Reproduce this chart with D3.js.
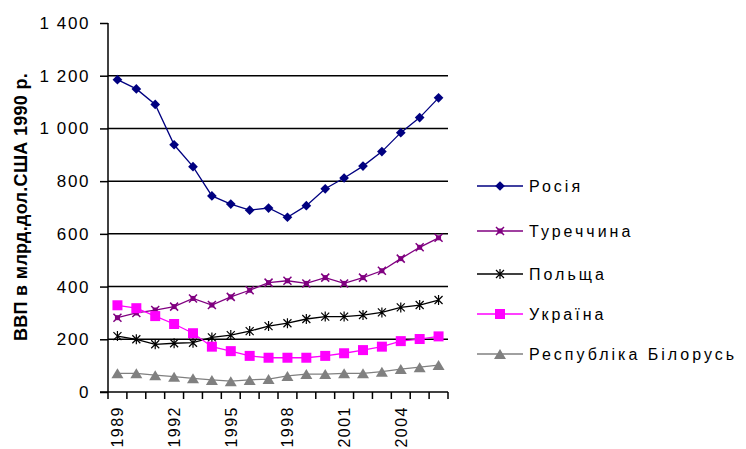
<!DOCTYPE html>
<html>
<head>
<meta charset="utf-8">
<script src="https://cdn.jsdelivr.net/npm/d3@7"></script>
<style>
  body { margin: 0; background: #fff; }
  text { font-family: Arial, "Liberation Sans", sans-serif; }
</style>
</head>
<body>
<div id="chart-area"></div>
<script>
// Data
// ****
const years = d3.range(1989, 2007).map(String)
const tickYears = ["1989", "1992", "1995", "1998", "2001", "2004"]
const yTicks = [0, 200, 400, 600, 800, 1000, 1200, 1400]

const russia  = [1185, 1150, 1091, 938, 855, 744, 713, 690, 698, 663, 707, 771, 812, 857, 912, 984, 1041, 1116]
const turkey  = [282, 300, 311, 324, 355, 330, 361, 386, 415, 422, 412, 434, 412, 434, 460, 506, 549, 585]
const poland  = [212, 200, 181, 185, 187, 207, 216, 231, 250, 261, 277, 286, 286, 292, 302, 321, 330, 349]
const ukraine = [329, 318, 288, 258, 223, 172, 155, 137, 130, 130, 130, 137, 147, 159, 172, 193, 201, 211]
const belarus = [71, 71, 64, 58, 52, 46, 41, 46, 49, 61, 68, 68, 71, 71, 77, 87, 94, 102]

const seriesNames = ["Росія", "Туреччина", "Польща", "Україна", "Республіка Білорусь"]
const seriesColors = ["#000080", "#800080", "#000000", "#ff00ff", "#808080"]
const seriesMarkers = ["diamond", "turkey", "poland", "square", "triangle"]
const seriesValues = [russia, turkey, poland, ukraine, belarus]

// Config
// ******
const width = 746, height = 449
const plot = {left: 108, right: 448, top: 23, bottom: 392}

const svg = d3.select("#chart-area")
  .append("svg")
    .attr("width", width)
    .attr("height", height)

const x = d3.scaleBand().domain(years).range([plot.left, plot.right])
const y = d3.scaleLinear().domain([0, 1400]).range([plot.bottom, plot.top])

// Grid
svg.append("g")
  .selectAll("line")
  .data(yTicks.filter(d => d > 0 && d < 1400))
  .enter().append("line")
    .attr("x1", plot.left).attr("x2", plot.right)
    .attr("y1", d => y(d)).attr("y2", d => y(d))
    .attr("stroke", "#000").attr("stroke-width", 1.5)

// Y Axis
const yAxis = d3.axisLeft(y).tickValues(yTicks).tickSize(8).tickPadding(10)
  .tickFormat(d => d >= 1000 ? d3.format(",")(d).replace(",", " ") : d)
const yG = svg.append("g").attr("transform", "translate(" + plot.left + ",0)").call(yAxis)
yG.select(".domain").attr("stroke", "#000").attr("stroke-width", 1.5).attr("d", "M0," + plot.top + "V" + plot.bottom)
yG.selectAll(".tick line").attr("stroke", "#000").attr("stroke-width", 1.5)
yG.selectAll("text").attr("font-size", "17px").attr("fill", "#000")
  .attr("letter-spacing", "1.6px")
  .attr("font-family", "Arial, 'Liberation Sans', sans-serif")

// X Axis
const xG = svg.append("g").attr("transform", "translate(0," + plot.bottom + ")")
xG.append("line")
  .attr("x1", plot.left - 8).attr("x2", plot.right)
  .attr("stroke", "#000").attr("stroke-width", 1.5)
xG.selectAll(".xtick")
  .data(years.concat(["end"]))
  .enter().append("line")
    .attr("x1", (d, i) => i < years.length ? x(d) : plot.right)
    .attr("x2", (d, i) => i < years.length ? x(d) : plot.right)
    .attr("y1", 0).attr("y2", 7)
    .attr("stroke", "#000").attr("stroke-width", 1.5)
xG.selectAll(".xlabel")
  .data(tickYears)
  .enter().append("text")
    .attr("transform", d => "translate(" + (x(d) + x.bandwidth() / 2 + 6) + ",14) rotate(-90)")
    .attr("text-anchor", "end")
    .attr("font-size", "16px")
    .attr("letter-spacing", "1.5px")
    .text(d => d)

// Y Label
svg.append("text")
  .attr("transform", "translate(27,207) rotate(-90)")
  .attr("text-anchor", "middle")
  .attr("font-size", "18px")
  .attr("font-weight", "bold")
  .attr("letter-spacing", "0.3px")
  .text("ВВП в млрд.дол.США 1990 р.")

// Markers
// *******
function drawMarker(sel, type, color) {
  if (type === "diamond") {
    sel.append("path").attr("d", d3.symbol().type(d3.symbolDiamond2).size(60)()).attr("fill", color)
  } else if (type === "square") {
    sel.append("rect").attr("x", -5).attr("y", -5).attr("width", 10).attr("height", 10).attr("fill", color)
  } else if (type === "triangle") {
    sel.append("path").attr("d", "M0,-5L6,5L-6,5Z").attr("fill", color)
  } else if (type === "turkey") {
    sel.append("rect").attr("x", -2.5).attr("y", -2.5).attr("width", 5).attr("height", 5).attr("fill", color)
    sel.append("path").attr("d", "M-4,-4L4,4M-4,4L4,-4").attr("stroke", color).attr("stroke-width", 1.5)
  } else if (type === "poland") {
    sel.append("path").attr("d", "M-4,-4L4,4M-4,4L4,-4M0,-5V5").attr("stroke", color).attr("stroke-width", 1.2)
  }
}

const line = d3.line()
  .x((d, i) => x(years[i]) + x.bandwidth() / 2)
  .y(d => y(d))

seriesValues.forEach((vals, k) => {
  svg.append("path")
    .datum(vals)
    .attr("d", line)
    .attr("fill", "none")
    .attr("stroke", seriesColors[k])
    .attr("stroke-width", 1.3)
  vals.forEach((v, i) => {
    const m = svg.append("g")
      .attr("transform", "translate(" + (x(years[i]) + x.bandwidth() / 2) + "," + y(v) + ")")
    drawMarker(m, seriesMarkers[k], seriesColors[k])
  })
})

// Legend
// ******
const legendY = [186, 231, 274, 314, 354]
seriesNames.forEach((name, k) => {
  const lg = svg.append("g").attr("transform", "translate(477," + legendY[k] + ")")
  lg.append("line").attr("x1", 0).attr("x2", 46)
    .attr("stroke", seriesColors[k]).attr("stroke-width", 1.3)
  drawMarker(lg.append("g").attr("transform", "translate(23,0)"), seriesMarkers[k], seriesColors[k])
  lg.append("text")
    .attr("x", 52).attr("y", 6)
    .attr("font-size", "16px")
    .attr("letter-spacing", "3px")
    .text(name)
})
</script>
</body>
</html>
